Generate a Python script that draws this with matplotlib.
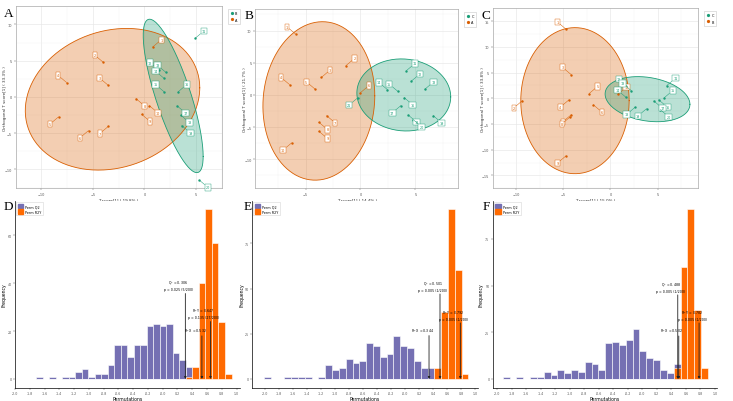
import numpy as np
import matplotlib
matplotlib.use('Agg')
import matplotlib.pyplot as plt
from matplotlib.lines import Line2D
from matplotlib.patches import Patch

col_or = '#D95F02'
col_tl = '#1B9E77'
col_q2 = '#7570B3'
col_r2 = '#FF6A00'

# ---------------- score plots (A, B, C) ----------------
A_or_x = [0.80, -3.99, -3.53, -7.55, -8.34, -5.43, -3.50, -0.83, -0.28, 0.49]
A_or_y = [6.89, 4.77, 1.62, 1.98, -2.75, -4.64, -4.05, -0.23, -2.39, -1.22]
A_tl_x = [4.94, 1.38, 2.09, 1.90, 1.90, 3.28, 3.16, 3.53, 3.62, 5.34]
A_tl_y = [8.11, 3.74, 3.38, 2.57, 0.72, 0.72, -1.22, -2.52, -3.96, -11.49]

B_or_x = [-5.91, -1.33, -3.55, -6.45, -4.15, 0.0, -3.09, -3.79, -3.79, -6.27]
B_or_y = [9.47, 4.55, 2.74, 1.60, 0.93, 0.36, -3.21, -4.24, -5.64, -7.45]
B_tl_x = [4.18, 4.64, 5.85, 2.45, 3.39, 3.97, 3.67, 4.33, 6.61, 4.79, -0.27]
B_tl_y = [3.78, 2.17, 0.88, 0.83, 0.57, -0.41, -1.66, -3.10, -3.21, -3.83, -0.47]

C_or_x = [-4.72, -9.35, -4.18, -4.40, -2.27, -1.82, -4.15, -4.25, -4.72, 0.77]
C_or_y = [13.44, -0.46, 4.62, -0.29, 0.92, -1.27, -3.17, -3.58, -11.19, 0.75]
C_tl_x = [5.97, 1.82, 2.20, 1.66, 5.71, 5.11, 4.60, 2.62, 3.83, 5.27]
C_tl_y = [2.48, 2.31, 1.50, 0.17, 0.12, -0.29, -0.52, -1.73, -2.02, -2.19]

# ellipse: centre x, centre y, a, b, c  (x = cx + a cos t, y = cy + b sin t + c cos t)
A_ell_or = [-3.10, -0.32, 8.47, 9.64, 1.58]
A_ell_tl = [2.79, 0.14, 2.91, 6.51, -8.34]
B_ell_or = [-3.79, -0.93, 5.09, 12.28, 0.8]
B_ell_tl = [3.94, 0.0, 4.27, 5.59, -0.3]
C_ell_or = [-3.77, -0.46, 5.75, 14.2, 0.0]
C_ell_tl = [3.93, -0.17, 4.5, 4.27, -1.0]

score_legend = [['B', 'A'], ['C', 'A'], ['C', 'B']]
score_xlab = ['T score[1] ( 19.8% )', 'T score[1] ( 14.4% )', 'T score[1] ( 15.0% )']
score_ylab = ['Orthogonal T score[1] ( 33.3% )', 'Orthogonal T score[1] ( 21.7% )',
              'Orthogonal T score[1] ( 33.8% )']

# ---------------- permutation histograms (D, E, F) ----------------
D_start, D_width = -1.714, 0.0882
D_q2 = [1, 0, 1, 0, 1, 1, 3, 4, 1, 2, 2, 6, 14, 14, 9, 14, 14, 22, 23, 22, 23, 11, 8, 5, 0, 0, 0, 0, 0, 0]
D_r2y = [0] * 23 + [1, 5, 40, 71, 57, 24, 2]
D_stats = [('Q$^2$ = 0.306\np = 0.025 (5/200)', 0.307, 35.7),
           ('R$^2$ X = 0.532', 0.531, 18),
           ('R$^2$ Y = 0.647\np = 0.135 (27/200)', 0.647, 24)]

E_start, E_width = -2.019, 0.0976
E_q2 = [1, 0, 0, 1, 1, 1, 1, 0, 1, 8, 5, 6, 11, 9, 10, 20, 18, 12, 14, 24, 18, 17, 10, 6, 6, 0, 0, 0, 0, 0]
E_r2y = [0] * 25 + [6, 37, 94, 60, 3]
E_stats = [('R$^2$ X = 0.344', 0.344, 24),
           ('Q$^2$ = 0.501\np = 0.005 (1/200)', 0.501, 47),
           ('R$^2$ Y = 0.792\np = 0.005 (1/200)', 0.792, 31)]

F_start, F_width = -1.926, 0.0943
F_q2 = [1, 0, 1, 0, 1, 1, 4, 2, 5, 3, 5, 4, 9, 8, 5, 19, 20, 18, 21, 27, 15, 11, 10, 5, 3, 8, 0, 0, 0, 0]
F_r2y = [0] * 25 + [6, 60, 91, 37, 6]
F_stats = [('R$^2$ X = 0.502', 0.502, 23),
           ('Q$^2$ = 0.488\np = 0.005 (1/200)', 0.488, 45),
           ('R$^2$ Y = 0.782\np = 0.005 (1/200)', 0.782, 30)]

W, H = 733., 402.
fig = plt.figure(figsize=(7.33, 4.02), dpi=100)


def fr(l, t, r, b):
    return [l / W, 1 - b / H, (r - l) / W, (b - t) / H]


def ell_xy(e):
    t = np.linspace(0, 2 * np.pi, 200)
    return e[0] + e[2] * np.cos(t), e[1] + e[3] * np.sin(t) + e[4] * np.cos(t)


def score_panel(rect, orx, ory, tlx, tly, e_or, e_tl, xl, yl, xt, yt, leg, xlab, ylab, ylab_x):
    ax = fig.add_axes(rect)
    for e, c in [(e_or, col_or), (e_tl, col_tl)]:
        ex, ey = ell_xy(e)
        ax.fill(ex, ey, facecolor=c, alpha=0.3, edgecolor='none', zorder=1)
        ax.plot(ex, ey, color=c, lw=0.6, zorder=2)
    n_or = len(orx)
    for xs, ys, c, off in [(orx, ory, col_or, 1), (tlx, tly, col_tl, n_or + 1)]:
        ax.scatter(xs, ys, s=3, color=c, zorder=3, linewidths=0)
        mx, my = np.mean(xs), np.mean(ys)
        for i, (x, y) in enumerate(zip(xs, ys)):
            dx = 6.2 if x >= mx else -6.2
            dy = 5.2 if y >= my else -5.2
            ax.annotate(str(off + i), xy=(x, y), xytext=(dx, dy), textcoords='offset points',
                        fontsize=2.4, color=c, ha='center', va='center', zorder=4,
                        bbox=dict(boxstyle='square,pad=0.35', fc='white', ec=c, lw=0.3),
                        arrowprops=dict(arrowstyle='-', color=c, lw=0.35, shrinkA=0, shrinkB=0))
    ax.set_xlim(*xl)
    ax.set_ylim(*yl)
    ax.set_xticks(xt)
    ax.set_yticks(yt)
    ax.set_xticks([(a + b) / 2 for a, b in zip(xt[:-1], xt[1:])] + [xt[0] - 2.5, xt[-1] + 2.5], minor=True)
    ax.set_yticks([(a + b) / 2 for a, b in zip(yt[:-1], yt[1:])] + [yt[0] - 2.5, yt[-1] + 2.5], minor=True)
    ax.grid(True, which='major', color='#E6E6E6', lw=0.45, zorder=0)
    ax.grid(True, which='minor', color='#F2F2F2', lw=0.3, zorder=0)
    ax.set_axisbelow(True)
    ax.tick_params(which='major', length=1.5, width=0.3, labelsize=2.5, pad=1, colors='#555555')
    ax.tick_params(which='minor', length=0)
    for s in ax.spines.values():
        s.set_color('#AAAAAA')
        s.set_linewidth(0.5)
    ax.set_xlabel(xlab, fontsize=3, labelpad=1.5, color='#333333')
    ax.set_ylabel(ylab, fontsize=3, color='#333333')
    ax.yaxis.set_label_coords(ylab_x, 0.5)
    hh = [Line2D([], [], marker='o', ls='', ms=1.3, color=col_tl),
          Line2D([], [], marker='o', ls='', ms=1.3, color=col_or)]
    lg = ax.legend(hh, leg, loc='upper left', bbox_to_anchor=(1.03, 0.985), fontsize=2.5,
                   handlelength=0.8, handletextpad=0.5, borderpad=0.7, labelspacing=0.6,
                   fancybox=False, borderaxespad=0)
    lg.get_frame().set_edgecolor('#BBBBBB')
    lg.get_frame().set_linewidth(0.4)
    return ax


score_panel(fr(15.7, 7.3, 221.7, 189.3), A_or_x, A_or_y, A_tl_x, A_tl_y, A_ell_or, A_ell_tl,
            (-12.35, 6.53), (-12.6, 12.0), [-10, -5, 0, 5], [-10, -5, 0, 5, 10],
            score_legend[0], score_xlab[0], score_ylab[0], -0.042)
score_panel(fr(255, 10, 458.3, 189.3), B_or_x, B_or_y, B_tl_x, B_tl_y, B_ell_or, B_ell_tl,
            (-9.6, 8.9), (-14.5, 13.35), [-5, 0, 5], [-10, -5, 0, 5, 10],
            score_legend[1], score_xlab[1], score_ylab[1], -0.041)
score_panel(fr(492.7, 9.3, 698.3, 189.3), C_or_x, C_or_y, C_tl_x, C_tl_y, C_ell_or, C_ell_tl,
            (-10.37, 9.32), (-16.2, 15.0), [-10, -5, 0, 5], [-15, -10, -5, 0, 5, 10, 15],
            score_legend[2], score_xlab[2], score_ylab[2], -0.037)


def perm_panel(rect, start, width, q2, r2y, stats, xl, yl, yt, ylab_x):
    ax = fig.add_axes(rect)
    edges = start + width * np.arange(len(q2))
    ax.bar(edges, q2, width=width, align='edge', color=col_q2, edgecolor='white', lw=0.4, zorder=2)
    ax.bar(edges, r2y, width=width, align='edge', color=col_r2, edgecolor='white', lw=0.4, zorder=2)
    for txt, x, h in stats:
        ax.annotate('', xy=(x, 0), xytext=(x, h), zorder=4,
                    arrowprops=dict(arrowstyle='-|>', color='#222222', lw=0.6,
                                    mutation_scale=3, shrinkA=0, shrinkB=0))
        ax.annotate(txt, xy=(x, h), xytext=(-5, 1.5), textcoords='offset points',
                    fontsize=2.3, ha='center', va='bottom', linespacing=1.4, zorder=5)
    ax.set_xlim(*xl)
    ax.set_ylim(*yl)
    ax.set_xticks(np.round(np.arange(-2.0, 1.01, 0.2), 1))
    ax.set_xticklabels(['%.1f' % v for v in np.round(np.arange(-2.0, 1.01, 0.2), 1)])
    ax.set_yticks(yt)
    ax.tick_params(length=1.5, width=0.3, labelsize=2.3, pad=0.8, colors='#555555')
    for s in ['top', 'right']:
        ax.spines[s].set_visible(False)
    for s in ['left', 'bottom']:
        ax.spines[s].set_linewidth(0.5)
    ax.set_xlabel('Permutations', fontsize=3.3, labelpad=1)
    ax.set_ylabel('Frequency', fontsize=3.3)
    ax.yaxis.set_label_coords(ylab_x, 0.5)
    hh = [Patch(color=col_q2), Patch(color=col_r2)]
    lg = ax.legend(hh, ['Perm Q2', 'Perm R2Y'], loc='upper left', bbox_to_anchor=(0.005, 0.99),
                   fontsize=2.4, handlelength=1.6, handleheight=1.6, handletextpad=0.6,
                   borderpad=0.5, labelspacing=0.3, fancybox=False, borderaxespad=0)
    lg.get_frame().set_edgecolor('#CCCCCC')
    lg.get_frame().set_linewidth(0.4)
    return ax


perm_panel(fr(15, 201.5, 240, 388.5), D_start, D_width, D_q2, D_r2y, D_stats,
           (-1.856, 1.047), (-3.55, 74.55), [0, 20, 40, 60], -0.036)
perm_panel(fr(252, 201.5, 478, 388.5), E_start, E_width, E_q2, E_r2y, E_stats,
           (-2.19, 1.045), (-4.7, 98.7), [0, 25, 50, 75], -0.031)
perm_panel(fr(492.7, 201.5, 716.7, 388.5), F_start, F_width, F_q2, F_r2y, F_stats,
           (-2.064, 1.025), (-4.55, 95.5), [0, 25, 50, 75], -0.043)

for lab, x, y in [('A', 8.5, 14), ('B', 249, 16), ('C', 486, 16),
                  ('D', 8.3, 207.5), ('E', 248, 207), ('F', 486, 207)]:
    fig.text(x / W, 1 - y / H, lab, fontsize=9.5, family='Liberation Serif',
             ha='center', va='center')

fig.savefig('out.png', dpi=100)
